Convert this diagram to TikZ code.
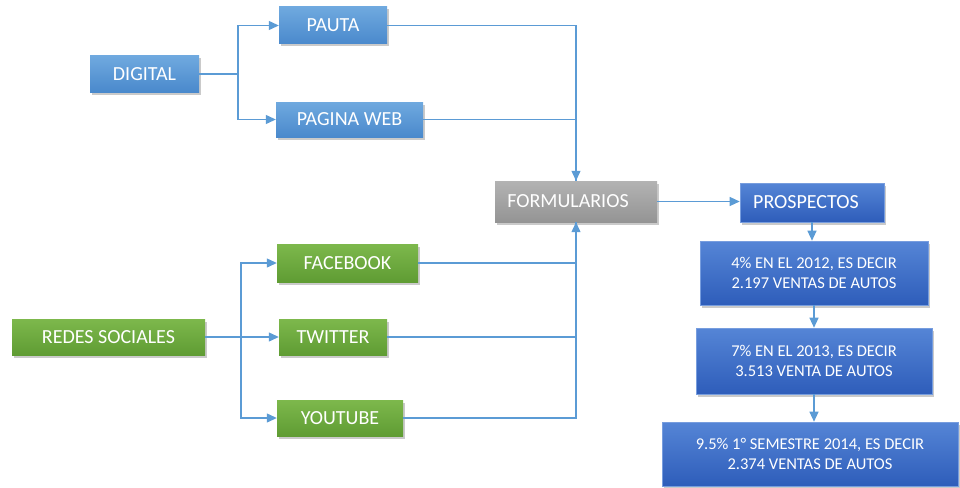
\documentclass[tikz,border=0pt]{standalone}
\usepackage{fontspec}
\setmainfont{Carlito}
\usetikzlibrary{arrows.meta,shadows}
\definecolor{lineblue}{HTML}{5B9BD5}
\definecolor{bluetop}{HTML}{6FA9DF}
\definecolor{bluebot}{HTML}{4A89CC}
\definecolor{greentop}{HTML}{7DB84C}
\definecolor{greenbot}{HTML}{5F9C33}
\definecolor{greytop}{HTML}{B3B3B3}
\definecolor{greybot}{HTML}{949494}
\definecolor{dbluetop}{HTML}{5585D6}
\definecolor{dblubot}{HTML}{2E5DBA}
\tikzset{
  box/.style={inner sep=0pt, text=white, font=\fontsize{20}{23}\selectfont, align=center,
    drop shadow={shadow xshift=2pt, shadow yshift=-2.5pt, opacity=0.35, fill=black!60}},
  bluebox/.style={box, top color=bluetop, bottom color=bluebot},
  greenbox/.style={box, top color=greentop, bottom color=greenbot},
  greybox/.style={box, top color=greytop, bottom color=greybot},
  dbluebox/.style={box, top color=dbluetop, bottom color=dblubot, draw=dbluetop!80!white, line width=0.6pt},
  smalltext/.style={font=\fontsize{16.5}{20}\selectfont},
  conn/.style={draw=lineblue, line width=1.2pt},
  arr/.style={conn, -{Triangle[length=10pt,width=9pt]}}
}
\begin{document}
\begin{tikzpicture}[x=1pt,y=-1pt]
\useasboundingbox (0,0) rectangle (960,487);
% nodes
\node[bluebox, minimum width=109pt, minimum height=36pt] (digital) at (144.5,74) {DIGITAL};
\node[bluebox, minimum width=108pt, minimum height=37pt] (pauta) at (333,25.5) {PAUTA};
\node[bluebox, minimum width=147pt, minimum height=35pt] (pagina) at (349.5,119.5) {PAGINA WEB};
\node[greybox, minimum width=162pt, minimum height=41pt] (form) at (576,201.5) {FORMULARIOS\hspace*{16pt}};
\node[dbluebox, minimum width=144pt, minimum height=39pt] (pros) at (812,202.5) {PROSPECTOS\hspace*{12pt}};
\node[dbluebox, smalltext, minimum width=228pt, minimum height=64pt] (b1) at (814,273) {4\% EN EL 2012, ES DECIR\\2.197 VENTAS DE AUTOS};
\node[dbluebox, smalltext, minimum width=236pt, minimum height=66pt] (b2) at (814,361) {7\% EN EL 2013, ES DECIR\\3.513 VENTA DE AUTOS};
\node[dbluebox, smalltext, minimum width=296pt, minimum height=64pt] (b3) at (810,454) {9.5\% 1° SEMESTRE 2014, ES DECIR\\2.374 VENTAS DE AUTOS};
\node[greenbox, minimum width=193pt, minimum height=36pt] (redes) at (108.5,337) {REDES SOCIALES};
\node[greenbox, minimum width=141pt, minimum height=38pt] (facebook) at (347.5,263) {FACEBOOK};
\node[greenbox, minimum width=108pt, minimum height=36pt] (twitter) at (333,337) {TWITTER};
\node[greenbox, minimum width=126pt, minimum height=36pt] (youtube) at (340,418) {YOUTUBE};
% branch coordinates
\coordinate (bd) at (238,74);
\coordinate (br) at (241,337);
% connectors
\draw[conn] (digital.east) -- (bd);
\draw[arr] (bd) |- (pauta.west);
\draw[arr] (bd) |- (pagina.west);
\draw[conn] (redes.east) -- (br);
\draw[arr] (br) |- (facebook.west);
\draw[arr] (br) -- (twitter.west);
\draw[arr] (br) |- (youtube.west);
\draw[conn] (pagina.east) -| (form.north);
\draw[arr] (pauta.east) -| (form.north);
\draw[conn] (twitter.east) -| (form.south);
\draw[conn] (youtube.east) -| (form.south);
\draw[arr] (facebook.east) -| (form.south);
\draw[arr] (form.east) -- (pros.west |- form.east);
\draw[arr] (pros.south) -- (pros.south |- b1.north);
\draw[arr] (b1.south) -- (b2.north);
\draw[arr] (b2.south) -- (b2.south |- b3.north);
\end{tikzpicture}
\end{document}
